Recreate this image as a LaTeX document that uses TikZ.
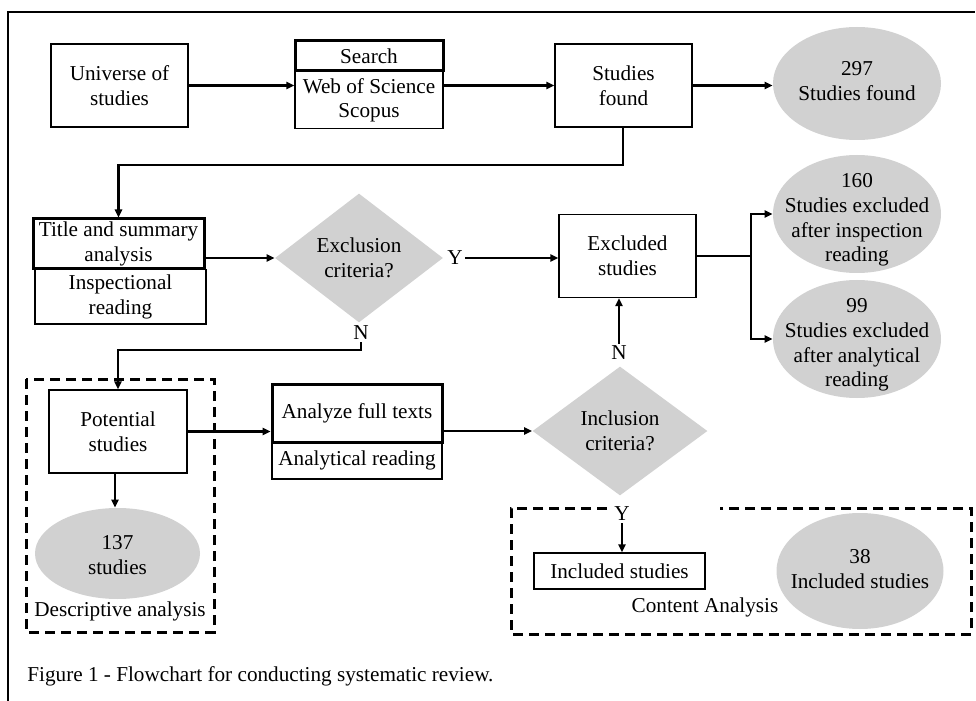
\documentclass[tikz,border=0pt]{standalone}
\usepackage{fontspec}
\setmainfont{Liberation Serif}
\usetikzlibrary{shapes.geometric,arrows.meta}
\definecolor{fillgray}{RGB}{209,209,209}
\tikzset{
  base/.style={font=\fontsize{10.6}{12.4}\selectfont, align=center, inner sep=0pt},
  box/.style={base, draw, line width=0.75pt, rectangle},
  thickbox/.style={base, draw, line width=1.5pt, rectangle},
  oval/.style={ellipse, fill=fillgray, inner sep=0pt},
  decide/.style={base, diamond, fill=fillgray},
  lbl/.style={base, fill=white, inner sep=1pt},
  conn/.style={line width=1.2pt, -{Triangle[length=4pt,width=3.6pt]}},
  plain/.style={line width=1.2pt},
  groupbox/.style={line width=1.5pt, dash pattern=on 5pt off 3pt}
}
\begin{document}
\begin{tikzpicture}[x=0.5pt,y=-0.5pt]
\useasboundingbox (0,0) rectangle (976,701);
% frame
\draw[line width=0.75pt] (8,701) -- (8,12) -- (975,12);

% top row
\node[box, minimum width=68.5pt, minimum height=41.5pt] (uni) at (119.5,85.5) {Universe of\\studies};
\node[thickbox, minimum width=74pt, minimum height=15pt] (search) at (369,56) {Search};
\node[box, minimum width=74pt, minimum height=28.5pt, anchor=north] (web) at (369,71) {Web of Science\\Scopus};
\node[box, minimum width=68.5pt, minimum height=41.5pt] (found) at (623.5,85.5) {Studies\\found};
\node[oval, minimum width=84pt, minimum height=56.5pt] (e297) at (857,83.5) {};
\node[base] (t297) at (857,81) {297\\Studies found};

\draw[conn] (uni.east) -- (uni.east -| web.west);
\draw[conn] (uni.east -| web.east) -- (uni.east -| found.west);
\draw[conn] (found.east |- uni.east) -- (e297.west |- uni.east);

% second row
\node[thickbox, minimum width=85.5pt, minimum height=25pt] (title) at (118.5,244) {Title and summary\\analysis};
\node[box, minimum width=85.5pt, minimum height=27pt, anchor=north] (insp) at (120.5,269) {Inspectional\\reading};
\coordinate (turn1) at (623,165);
\draw[conn] (found.south -| turn1) -- (turn1) -- (title.north |- turn1) -- (title.north);

\node[decide, minimum width=84pt, minimum height=64.5pt] (excl) at (359,258) {Exclusion\\criteria?};
\draw[conn] (title.east |- excl.west) -- (excl.west);

\node[box, minimum width=68.5pt, minimum height=41.5pt] (excluded) at (627.5,256) {Excluded\\studies};
\node[lbl] (y1) at (455,258) {Y};
\draw[conn] (y1.east) -- (y1.east -| excluded.west);

\node[oval, minimum width=84pt, minimum height=59pt] (e160) at (857,214) {};
\node[base] (t160) at (857,220) {160\\Studies excluded\\after inspection\\reading};
\node[oval, minimum width=84pt, minimum height=59pt] (e99) at (857,339) {};
\node[base] (t99) at (857,345) {99\\Studies excluded\\after analytical\\reading};
\coordinate (branch) at (751,256);
\draw[plain] (excluded.east |- branch) -- (branch);
\draw[conn] (branch) |- (e160.west);
\draw[conn] (branch) |- (e99.west);

% N from exclusion
\node[lbl] (n1) at (361,333) {N};
\coordinate (turn2) at (361,350);
\node[box, minimum width=69pt, minimum height=41.5pt] (potential) at (118,431.5) {Potential\\studies};
\draw[conn] (n1.south) -- (turn2) -- (potential.north |- turn2) -- (potential.north);

% third row
\node[thickbox, minimum width=85pt, minimum height=29pt] (analyze) at (357,413) {Analyze full texts};
\node[box, minimum width=85pt, minimum height=18pt, anchor=north] (analytical) at (357,442) {Analytical reading};
\draw[conn] (potential.east) -- (potential.east -| analyze.west);

\node[decide, minimum width=87.5pt, minimum height=64.5pt] (incl) at (620,431) {Inclusion\\criteria?};
\draw[conn] (analyze.east |- incl.west) -- (incl.west);

\node[lbl] (n2) at (619,353) {N};
\draw[conn] (n2.north) -- (excluded.south -| n2);

% descriptive group
\node[oval, minimum width=82.5pt, minimum height=45.5pt] (e137) at (117.5,553.5) {};
\node[base] (t137) at (117.5,555) {137\\studies};
\draw[conn] (potential.south -| 115,0) -- (e137.north -| 115,0);
\node[base] (desc) at (120,611) {Descriptive analysis};
\draw[groupbox] (26,379) rectangle (214,632);

% content group
\node[lbl] (y2) at (622,514) {Y};
\node[box, minimum width=85.5pt, minimum height=18pt] (included) at (619.5,571) {Included studies};
\draw[conn] (y2.south) -- (included.north -| y2);
\node[base] (content) at (705,607) {Content Analysis};
\node[oval, minimum width=83.5pt, minimum height=58pt] (e38) at (860,571) {};
\node[base] (t38) at (860,569) {38\\Included studies};
\draw[groupbox] (607,508) -- (511,508) -- (511,634) -- (971,634) -- (971,508) -- (720,508);

% caption
\node[base, anchor=west] (caption) at (27,676) {Figure 1 - Flowchart for conducting systematic review.};
\end{tikzpicture}
\end{document}
